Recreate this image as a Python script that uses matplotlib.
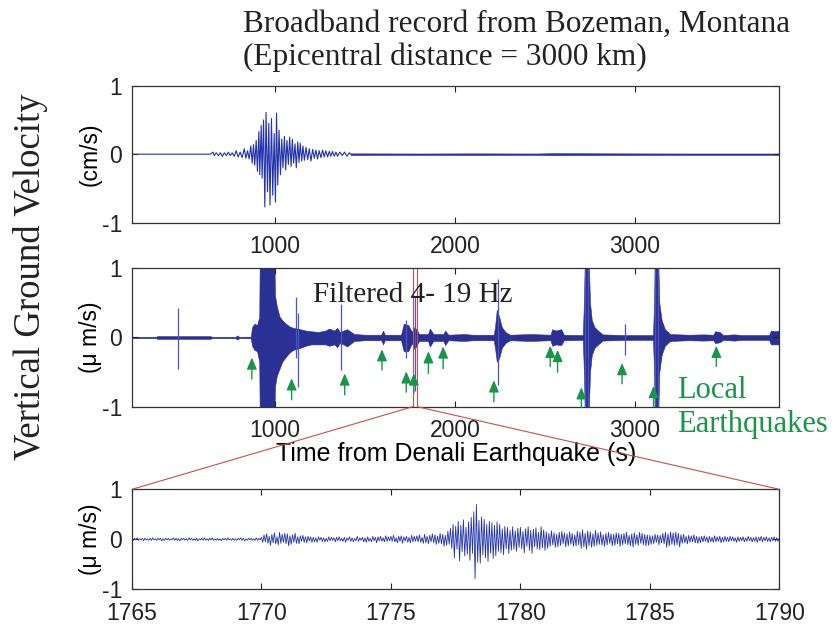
import matplotlib.pyplot as plt
import numpy as np
from matplotlib.patches import ConnectionPatch

plt.rcParams['font.family'] = ['Liberation Sans', 'DejaVu Sans']
plt.rcParams['axes.unicode_minus'] = False

# broadband record: peak values (cm/s)
bb_t = [205, 640, 655, 662, 673, 685, 696, 707, 718, 729, 740, 751, 762, 773,
        784, 795, 806, 817, 829, 838, 847, 856, 865, 873, 880, 887, 895, 902,
        910, 915, 923, 928, 936, 943, 950, 958, 965, 972, 980, 987, 995, 1002,
        1008, 1015, 1022, 1030, 1037, 1044, 1052, 1059, 1066, 1074, 1081, 1089,
        1096, 1103, 1111, 1118, 1126, 1133, 1140, 1148, 1155, 1163, 1172, 1181,
        1190, 1199, 1209, 1218, 1227, 1236, 1245, 1255, 1264, 1273, 1282, 1292,
        1301, 1310, 1319, 1329, 1338, 1347, 1360, 1373, 1386, 1399, 1412, 1420]
bb_v = [0, 0, 0.03, -0.02, 0.02, -0.02, 0.02, -0.03, 0.02, -0.02, 0.03, -0.02,
        0.02, -0.03, 0.05, -0.04, 0.03, -0.05, 0.08, -0.06, 0.05, -0.07, 0.12,
        -0.13, 0.14, -0.16, 0.2, -0.25, 0.33, -0.3, 0.42, -0.35, 0.5, -0.77,
        0.61, -0.55, 0.45, -0.74, 0.52, -0.6, 0.3, -0.7, 0.6, -0.45, 0.35, -0.3,
        0.22, -0.2, 0.26, -0.23, 0.2, -0.15, 0.25, -0.18, 0.22, -0.13, 0.15,
        -0.2, 0.18, -0.12, 0.16, -0.1, 0.12, -0.09, 0.1, -0.08, 0.08, -0.1, 0.07,
        -0.06, 0.06, -0.07, 0.05, -0.05, 0.06, -0.04, 0.05, -0.04, 0.04, -0.03,
        0.04, -0.03, 0.03, -0.03, 0.03, -0.02, 0.03, -0.03, 0.02, 0]
# background noise level after the surface waves
bb_noise_t = [1420, 1800, 2100, 2450, 2550, 2900, 3300, 3802]
bb_noise_amp = [0.012, 0.01, 0.012, 0.01, 0.015, 0.012, 0.01, 0.01]

# filtered record: envelope of the trace (micro m/s)
hf_t = [205, 340, 345, 640, 650, 780, 790, 800, 865, 872, 885, 900, 912, 915,
        995, 1000, 1010, 1025, 1040, 1060, 1080, 1100, 1140, 1170, 1200, 1240,
        1280, 1300, 1330, 1345, 1360, 1380, 1400, 1440, 1500, 1590, 1600, 1610,
        1700, 1715, 1740, 1760, 1775, 1790, 1800, 1850, 1860, 1880, 1935, 1945,
        1963, 2050, 2100, 2215, 2222, 2232, 2245, 2260, 2280, 2305, 2420, 2530,
        2540, 2560, 2590, 2605, 2710, 2716, 2722, 2742, 2750, 2760, 2775, 2795,
        2820, 2940, 3100, 3106, 3110, 3128, 3135, 3148, 3166, 3195, 3300, 3380,
        3435, 3445, 3470, 3490, 3550, 3600, 3745, 3755, 3780, 3802]
hf_hi = [0.01, 0.01, 0.02, 0.02, 0.01, 0.01, 0.03, 0.01, 0.012, 0.15,
         0.2, 0.18, 0.3, 1.2, 1.2, 0.6, 0.45, 0.3, 0.25, 0.2, 0.16, 0.14, 0.12,
         0.1, 0.09, 0.08, 0.1, 0.13, 0.1, 0.14, 0.08, 0.1, 0.12, 0.05, 0.04,
         0.04, 0.1, 0.04, 0.04, 0.2, 0.18, 0.08, 0.15, 0.1, 0.05, 0.05, 0.13,
         0.05, 0.05, 0.1, 0.04, 0.05, 0.04, 0.04, 0.15, 0.4, 0.3, 0.15, 0.08,
         0.04, 0.05, 0.04, 0.12, 0.1, 0.12, 0.04, 0.035, 0.5, 1.2, 1.2, 0.5, 0.25,
         0.15, 0.1, 0.045, 0.035, 0.035, 0.5, 1.2, 1.2, 0.5, 0.25, 0.12, 0.05,
         0.04, 0.045, 0.04, 0.09, 0.08, 0.035, 0.045, 0.035, 0.035, 0.1, 0.09,
         0.1]
hf_lo = [-0.01, -0.01, -0.02, -0.02, -0.01, -0.01, -0.03, -0.01, -0.012,
         -0.12, -0.18, -0.2, -0.35, -1.2, -1.2, -0.7, -0.55, -0.45, -0.35, -0.28,
         -0.22, -0.18, -0.15, -0.12, -0.1, -0.1, -0.1, -0.12, -0.1, -0.14, -0.08,
         -0.1, -0.13, -0.05, -0.04, -0.04, -0.1, -0.04, -0.04, -0.2, -0.2, -0.08,
         -0.17, -0.1, -0.05, -0.05, -0.13, -0.05, -0.05, -0.11, -0.04, -0.05,
         -0.04, -0.04, -0.15, -0.35, -0.3, -0.15, -0.08, -0.04, -0.05, -0.04,
         -0.12, -0.1, -0.11, -0.04, -0.035, -0.5, -1.2, -1.2, -0.5, -0.25, -0.15,
         -0.1, -0.045, -0.035, -0.035, -0.5, -1.2, -1.2, -0.5, -0.25, -0.12,
         -0.05, -0.04, -0.045, -0.04, -0.08, -0.07, -0.035, -0.045, -0.035,
         -0.035, -0.1, -0.1, -0.1]
# isolated spikes in the filtered record
spike_t = [459, 1118, 1128, 1367, 1730, 1778, 2237, 2722, 2737, 2944, 3110, 3126]
spike_hi = [0.42, 0.59, 0.35, 0.49, 0.25, 0.6, 0.84, 1.2, 1.2, 0.19, 1.2, 1.2]
spike_lo = [-0.45, -0.3, -0.72, -0.47, -0.3, -0.78, -0.69, -1.2, -1.2, -0.26, -1.2, -1.2]

# local earthquake picks (time, arrow head, arrow tail)
eq_t = [871, 1092, 1387, 1594, 1729, 1771, 1852, 1934, 2216, 2529, 2570,
        2702, 2928, 3103, 3452]
eq_head = [-0.29, -0.59, -0.52, -0.17, -0.49, -0.52, -0.2, -0.13, -0.62,
           -0.12, -0.18, -0.72, -0.37, -0.7, -0.12]
eq_tail = [-0.6, -0.9, -0.83, -0.47, -0.79, -0.81, -0.52, -0.45, -0.93,
           -0.42, -0.5, -1.01, -0.67, -1.0, -0.42]

# zoomed window, peaks every 0.05 s (units of 0.01 micro m/s)
zoom_t0 = 1765
zoom_t1 = 1790
zoom_dt = 0.05
zoom_v = [1, -2, 2, -1, 3, -2, 1, -1, 2, -3, 2, -1, 1, -2, 2, -2, 3, -1, 1, -2,
          2, -1, 2, -3, 1, -2, 2, -1, 2, -2, 1, -1, 3, -2, 2, -2, 1, -3, 2, -1,
          2, -2, 1, -2, 3, -1, 2, -2, 1, -2, 2, -3, 1, -1, 2, -2, 3, -2, 1, -2,
          2, -1, 3, -2, 1, -2, 2, -2, 1, -3, 2, -1, 2, -2, 3, -1, 1, -2, 2, -2,
          1, -2, 2, -1, 3, -2, 2, -3, 1, -2, 2, -1, 2, -2, 1, -2, 3, -2, 2, -1,
          4, -6, 9, -5, 11, -8, 6, -12, 10, -7, 13, -9, 5, -11, 14, -8, 10, -6, 12, -9,
          11, -13, 7, -10, 9, -6, 12, -8, 5, -9, 7, -4, 8, -6, 5, -7, 6, -3, 5, -6,
          4, -5, 3, -6, 5, -2, 4, -4, 3, -5, 2, -4, 5, -3, 4, -2, 3, -5, 4, -3,
          5, -3, 2, -4, 4, -6, 3, -2, 5, -4, 3, -5, 2, -3, 6, -4, 3, -2, 4, -5,
          3, -6, 5, -4, 2, -5, 6, -3, 4, -7, 5, -3, 6, -4, 3, -5, 7, -4, 5, -3,
          6, -4, 8, -5, 3, -7, 6, -4, 7, -8, 5, -3, 6, -6, 4, -7, 8, -5, 6, -4,
          7, -5, 9, -6, 4, -8, 10, -7, 6, -9, 8, -5, 11, -7, 9, -10, 6, -8, 12, -9,
          10, -14, 8, -12, 16, -10, 22, -18, 30, -37, 26, -20, 36, -43, 28, -25, 39, -33, 24, -30,
          35, -42, 44, -28, 55, -79, 70, -46, 38, -48, 45, -31, 40, -37, 30, -44, 36, -28, 33, -38,
          28, -33, 35, -24, 30, -27, 21, -31, 26, -19, 24, -28, 18, -22, 25, -20, 17, -24, 22, -16,
          24, -19, 16, -27, 21, -14, 25, -22, 18, -28, 20, -15, 23, -19, 14, -21, 25, -17, 19, -22,
          15, -18, 12, -14, 17, -11, 13, -16, 10, -15, 14, -12, 16, -9, 13, -15, 11, -13, 15, -10,
          12, -14, 9, -13, 16, -11, 14, -18, 19, -15, 12, -20, 17, -13, 15, -16, 11, -14, 18, -12,
          13, -10, 15, -12, 9, -14, 12, -11, 14, -8, 11, -13, 10, -12, 13, -9, 12, -14, 10, -11,
          12, -9, 14, -11, 8, -13, 11, -15, 13, -10, 9, -12, 14, -8, 12, -11, 10, -13, 9, -12,
          8, -10, 7, -9, 10, -6, 9, -11, 8, -7, 12, -9, 14, -16, 11, -13, 15, -10, 13, -12,
          14, -11, 12, -15, 9, -8, 10, -7, 6, -9, 8, -6, 7, -5, 9, -7, 6, -8, 5, -7,
          6, -5, 7, -4, 5, -7, 6, -5, 4, -6, 7, -5, 5, -4, 6, -7, 4, -5, 6, -4,
          4, -5, 6, -3, 5, -4, 3, -6, 5, -4, 4, -3, 5, -5, 3, -4, 6, -3, 4, -5,
          3, -4, 5, -6, 4, -3, 6, -5, 4, -3, 5, -4, 3, -5, 4, -3, 5, -4, 3, -4,
          3]

trace_col = '#2233aa'
fill_col = '#2b3095'
green = '#17964a'
red = '#c8504c'
serif = ['Liberation Serif', 'DejaVu Serif']

fig = plt.figure(figsize=(8.37, 6.28), dpi=100)
ax1 = fig.add_axes([0.1577, 0.6454, 0.7734, 0.2182])
ax2 = fig.add_axes([0.1577, 0.3524, 0.7734, 0.2204])
ax3 = fig.add_axes([0.1577, 0.0616, 0.7734, 0.1592])

# top: broadband trace
ax1.plot(bb_t, bb_v, color=trace_col, lw=0.8)
noise = np.array(bb_noise_amp)
ax1.fill_between(bb_noise_t, -noise, noise, color=trace_col, lw=0.4)

# middle: filtered trace
ax2.fill_between(hf_t, hf_lo, hf_hi, color=fill_col, lw=0.4)
ax2.vlines(spike_t, spike_lo, spike_hi, color='#4a55c0', lw=0.9)
for t, h, tl in zip(eq_t, eq_head, eq_tail):
    ax2.annotate('', xy=(t, h), xytext=(t, tl),
                 arrowprops=dict(arrowstyle='-|>,head_length=0.7,head_width=0.3',
                                 color=green, lw=1.0, shrinkA=0, shrinkB=0))
ax2.axvline(zoom_t0, color=red, lw=0.8)
ax2.axvline(zoom_t1, color=red, lw=0.8)
ax2.text(0.28, 0.76, 'Filtered 4- 19 Hz', transform=ax2.transAxes,
         family=serif, fontsize=21, color='#222222')

# bottom: zoom on one local event
zoom_t = zoom_t0 + zoom_dt * np.arange(len(zoom_v))
ax3.plot(zoom_t, np.array(zoom_v) / 100.0, color=trace_col, lw=0.6)

for ax in (ax1, ax2):
    ax.set_xlim(205, 3802)
    ax.set_xticks([1000, 2000, 3000])
for ax in (ax1, ax2, ax3):
    ax.set_ylim(-1, 1)
    ax.set_yticks([-1, 0, 1])
    ax.tick_params(direction='in', length=4, top=True, right=True,
                   labelsize=16.5, colors='#222222', pad=9)
    ax.tick_params(axis='y', pad=7)
    for s in ax.spines.values():
        s.set_color('#333333')
        s.set_linewidth(0.9)
ax3.set_xlim(zoom_t0, zoom_t1)
ax3.set_xticks([1765, 1770, 1775, 1780, 1785, 1790])

ax1.set_ylabel('(cm/s)', fontsize=16.5, va='center')
ax2.set_ylabel('(\u03bc m/s)', fontsize=16.5, va='center')
ax3.set_ylabel('(\u03bc m/s)', fontsize=16.5, va='center')
for ax in (ax1, ax2, ax3):
    ax.yaxis.set_label_coords(-0.064, 0.5)
ax2.set_xlabel('Time from Denali Earthquake (s)', fontsize=18, labelpad=0)

# lines joining the zoom window to the bottom panel
for t in (zoom_t0, zoom_t1):
    con = ConnectionPatch(xyA=(t, -1), coordsA=ax2.transData,
                          xyB=(t, 1), coordsB=ax3.transData,
                          color=red, lw=0.8)
    fig.add_artist(con)

fig.text(0.290, 0.949, 'Broadband record from Bozeman, Montana',
         family=serif, fontsize=22.5, color='#222222', va='baseline')
fig.text(0.290, 0.8965, '(Epicentral distance = 3000 km)',
         family=serif, fontsize=22.5, color='#222222', va='baseline')
fig.text(0.036, 0.56, 'Vertical Ground Velocity', rotation=90,
         family=serif, fontsize=26.5, color='#222222', ha='center', va='center')
fig.text(0.809, 0.366, 'Local', family=serif, fontsize=22, color=green,
         va='baseline')
fig.text(0.809, 0.3126, 'Earthquakes', family=serif, fontsize=22, color=green,
         va='baseline')

fig.savefig('out.png', dpi=100)
